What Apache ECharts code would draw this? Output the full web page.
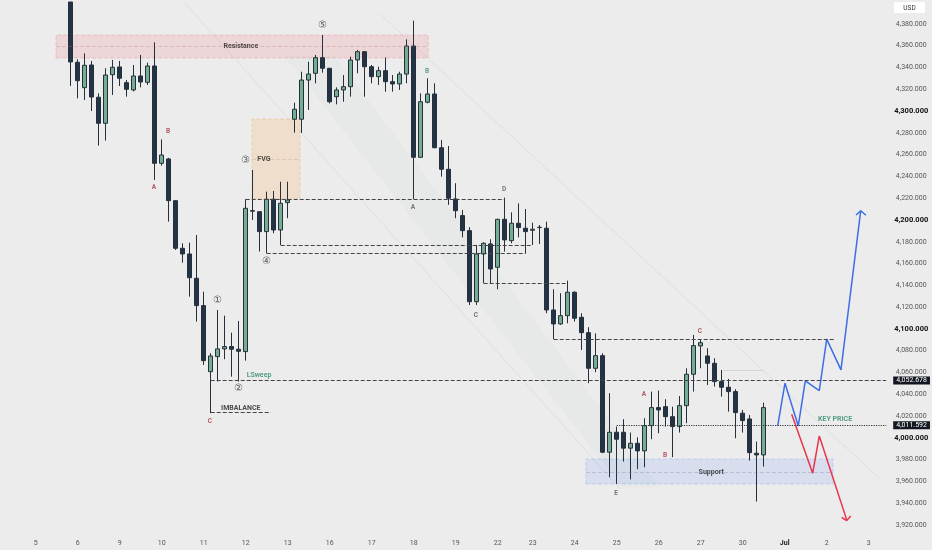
<!DOCTYPE html>
<html><head><meta charset="utf-8">
<script src="https://cdn.jsdelivr.net/npm/echarts@6/dist/echarts.min.js"></script>
<style>html,body{margin:0;padding:0;background:#ececec}#c{width:932px;height:550px}</style>
</head><body><div id="c"></div>
<script>
// ---- candle data (4H), first drawn candle at category index 5 ----
const firstIdx = 5;
const opens = [4400,4344.7,4321.4,4342.2,4312.6,4288.7,4333.3,4340.4,4326,4319.3,4332.1,4326.3,4341.3,4252,4256,4217.7,4174,4168.8,4146.5,4121.4,
  4060.8,4074.6,4081.7,4083.8,4081.4,4079.2,4208,4207.6,4189.3,4219,4190.8,4215.9,4292.4,4292.4,4328.4,4334.6,4348.9,4339.2,4313.1,4319.3,
  4322.3,4346.8,4354.4,4340.6,4331.5,4337,4326.9,4324.8,4333.9,4359.6,4257.5,4308,4315.6,4266.3,4246.5,4219.3,4204,4190.2,4125,4168.8,
  4178,4156.6,4200.6,4181,4197,4192.4,4190.5,4193,4192.4,4117.4,4104.6,4112.2,4133.7,4110.7,4096.6,4063.9,4075.5,3986.9,4005.2,4005.2,
  3990.6,3995.1,3988.1,4011.3,4027.8,4028.7,4019.5,4010.4,4029.6,4058.4,4084.4,4075.2,4068.5,4051.7,4046.5,4042.5,4022.7,4017.4,3985.9,3984.4];
const closes = [4345,4327.8,4341.9,4312.8,4288.7,4333,4340.1,4330,4319.9,4332.1,4326.6,4341.3,4252,4259.6,4217.7,4174,4168.8,4147,4121.4,4070.9,
  4075.2,4081.7,4083.8,4081.4,4079.5,4210.7,4208.6,4189.3,4219,4190.8,4215.3,4218.3,4301.6,4328.4,4333.9,4348.9,4339.2,4308.5,4319.3,4322.3,
  4346.8,4354.4,4340.6,4331.5,4337,4326.9,4324.8,4333.9,4359.6,4257.5,4308.5,4315.6,4266.3,4246.5,4219.9,4208.5,4190.2,4125,4168.8,4178.6,
  4155,4200.6,4181.7,4197,4193,4189.3,4191.5,4193.3,4117.4,4104.6,4112.2,4133.7,4109.8,4096.6,4063.9,4075.5,3986.9,4005.2,3998.8,3990.6,
  3995.1,3988.1,4011.3,4027.8,4025.7,4019.5,4010.4,4029.6,4058.4,4084.7,4087.4,4068.5,4051.7,4046.5,4042.5,4023.2,4015.9,3986.5,3984.4,4027.8];
const lows = [4323,4311.6,4310.1,4300,4268.2,4272.8,4314.7,4322.9,4313.1,4318,4321.7,4323.9,4236.7,4249.8,4198.4,4172.5,4160.8,4129.6,4106.7,4067,
  4022.7,4051.7,4072.2,4056.2,4051.7,4070.9,4200,4171,4169.4,4187.8,4177,4201.6,4280.1,4279.8,4300.9,4325.4,4335.1,4307,4306.1,4308.5,
  4313.1,4334.6,4313.1,4325.4,4323.9,4317.7,4317.7,4319.3,4325.4,4219,4257,4307,4265.8,4239.7,4213.8,4201.6,4184.1,4122,4122,4141.9,
  4141.9,4136.4,4171,4178.6,4184.1,4169.4,4177,4178,4114.4,4090.6,4103.7,4105.2,4106.7,4080.7,4050.2,4060.3,3986,3963.9,3957.8,3978.3,
  3962,3971.3,3973.1,3998.8,4004.3,4010.4,3982.3,4004.9,4013.5,4042.5,4063.9,4048.6,4047.1,4037.9,4024.1,3999.7,4004.9,3979.2,3941.6,3973.7];
const highs = [4400,4347.4,4352.9,4345.9,4316.2,4339.2,4346.8,4345.9,4328.4,4342.2,4351.4,4344.3,4363,4274,4257,4218,4178.6,4179.2,4186.2,4134.2,
  4077.7,4117.4,4112.2,4096.6,4107.3,4219,4245.9,4208,4226,4226.6,4235.1,4235.1,4307.6,4336,4345.2,4351.4,4369.7,4339.5,4321.7,4333,
  4349.8,4356,4355,4342.2,4340.6,4349.2,4333,4336,4365.7,4382.9,4316.2,4330,4325.4,4273.4,4267.9,4233.7,4209.2,4193.3,4177.1,4179.5,
  4182.3,4201,4220.5,4207,4215.3,4210.1,4197.5,4195.4,4198.4,4136.4,4132.8,4144.3,4134.5,4114.4,4101.6,4096,4077.7,4041,4010.4,4017.2,
  4004.9,4000.6,4018.1,4042.5,4043.4,4035.5,4028.7,4038.5,4063.9,4094.5,4090.6,4082.3,4073.1,4062.4,4054.1,4044.7,4025.7,4021.1,3996.6,4032.4];

const categoryCount = 122;
const dayLabels = ['5','6','9','10','11','12','13','16','17','18','19','22','23','24','25','26','27','30','Jul','2','3'];
const dayStarts = [0,6,12,18,24,30,36,42,48,54,60,66,71,77,83,89,95,101,107,113,119];
const yTicks = [3920,3940,3960,3980,4000,4020,4040,4060,4080,4100,4120,4140,4160,4180,4200,4220,4240,4260,4280,4300,4320,4340,4360,4380];
const boldTicks = [4000,4100,4200,4300];

// ---- levels / zones (x in candle index units, y in price) ----
const sweepPrice = 4052.678;
const lastPrice = 4011.592;
const resistanceZone = [2.9, 56.06, 4348.6, 4369.7, 4359.2];
const fvgZone = [30.9, 37.76, 4219.3, 4292.7, 4255.7];
const supportZone = [78.6, 113.9, 3957.8, 3980.7, 3968.8];
const levelX1 = [30, 35, 33, 64, 74, 25];
const levelX2 = [67, 71, 70, 76, 114, 33.6];
const levelY  = [4219.3, 4177, 4169.7, 4141.5, 4090.6, 4023.9];

// ---- faint descending channel ----
const channelUpperX = [49.2, 120.6];
const channelUpperY = [4389, 3962.4];
const channelLowerX = [21.2, 83.5];
const channelLowerY = [4400, 3953.2];
const bandX = [35.6, 42.8, 89.2, 83.8];
const bandY = [4350, 4350, 3955, 3955];

// ---- projected paths ----
const blueX = [106.0,107.04,108.94,109.94,111.94,113.0,115.04,117.86];
const blueY = [4011,4050.2,4011,4052.3,4043.4,4090.6,4062.4,4208.5];
const blueHeadX = [117.19,117.86,118.61];
const blueHeadY = [4204.6,4208.5,4204.3];
const redX = [108.0,111.0,111.94,115.86];
const redY = [4021.7,3967.6,4001.8,3924.8];
const redHeadX = [115.14,115.86,116.43];
const redHeadY = [3927.2,3924.1,3928.4];

// ---- text annotations ----
const noteText = ['A','B','C','A','B','D','C','E','A','B','C','①','②','③','④','⑤','Resistance','FVG','LSweep','IMBALANCE','Support','KEY PRICE'];
const noteX = [16.9,18.9,24.9,53.9,55.9,66.9,62.9,82.9,86.9,89.9,94.9,25.9,28.9,29.9,33.0,40.9,29.3,32.6,31.9,29.3,96.5,114.2];
const noteY = [4230.3,4281.7,4015.6,4211.9,4336.7,4228.4,4112.8,3949.5,4040.4,3984.4,4098.2,4125.7,4045,4255,4161.5,4378,4359.6,4256,4057.8,4027.5,3968.8,4017.4];
const noteKind = ['r','r','r','g','gr','g','g','g','r','r','r','n','n','n','n','n','t','t','lg','t','t','lg'];

const kindStyle = {
  r: {color:'#a8323e', fontSize:6.5, fontWeight:'bold'},
  g: {color:'#555', fontSize:6.5, fontWeight:'bold'},
  gr:{color:'#3c8a6e', fontSize:6.5, fontWeight:'bold'},
  n: {color:'#333', fontSize:10},
  t: {color:'#222', fontSize:7, fontWeight:'bold'},
  lg:{color:'#2f8a68', fontSize:7, fontWeight:'bold'}
};

function fmt(v){
  const s = v.toFixed(3); const [a,b] = s.split('.');
  return a.replace(/\B(?=(\d{3})+(?!\d))/g, ',') + '.' + b;
}

const cats = []; const candles = [];
for (let i = 0; i < categoryCount; i++) {
  cats.push(String(i));
  const j = i - firstIdx;
  candles.push(j >= 0 && j < opens.length ? [opens[j], closes[j], lows[j], highs[j]] : '-');
}

function zoneArea(z, fill, border){
  return [{xAxis:z[0], yAxis:z[2], itemStyle:{color:fill, borderColor:border, borderWidth:1, borderType:'dashed'}}, {xAxis:z[1], yAxis:z[3]}];
}
function zoneMid(z, color){
  return [{coord:[z[0], z[4]], lineStyle:{color:color, type:'dashed', width:1}}, {coord:[z[1], z[4]]}];
}

const levelLines = levelX1.map((x,k)=>[{coord:[x, levelY[k]]},{coord:[levelX2[k], levelY[k]]}]);
const tagLabel = (txt)=>({show:true, position:'end', formatter:txt, backgroundColor:'#131722', color:'#fff', padding:[1,3,0,3], fontSize:7, distance:7, fontFamily:'Roboto'});

const notes = noteText.map((t,k)=>({value:[noteX[k], noteY[k]], label:Object.assign({show:true, position:'inside', formatter:t, fontFamily:'Roboto'}, kindStyle[noteKind[k]])}));

const chart = echarts.init(document.getElementById('c'), null, {renderer:'canvas'});
chart.setOption({
  animation:false,
  backgroundColor:'#ececec',
  textStyle:{fontFamily:'Roboto'},
  grid:{left:32.2, width:854, top:2, height:534},
  xAxis:[
    {type:'category', data:cats, boundaryGap:true,
     axisLine:{show:false}, axisTick:{show:false}, splitLine:{show:false},
     axisLabel:{interval:(i)=>dayStarts.indexOf(i)>=0, margin:4, fontSize:7, color:'#555',
       formatter:(v,i)=>{const k=dayStarts.indexOf(Number(v)); if(k<0) return ''; const l=dayLabels[k]; return l==='Jul'?'{b|Jul}':l;},
       rich:{b:{fontWeight:'bold', color:'#222', fontSize:7}}}},
    {type:'value', min:-0.5, max:categoryCount-0.5, show:false}
  ],
  yAxis:{type:'value', position:'right', min:3910, max:4400, scale:true,
    axisLine:{show:false}, axisTick:{show:false}, splitLine:{show:false},
    axisLabel:{customValues:yTicks, align:'center', margin:25, fontSize:7, color:'#555', hideOverlap:false,
      formatter:(v)=> boldTicks.indexOf(v)>=0 ? '{b|'+fmt(v)+'}' : fmt(v),
      rich:{b:{fontWeight:'bold', color:'#111', fontSize:7.5}}}},
  graphic:[
    {type:'rect', shape:{x:894,y:2,width:31,height:11}, style:{fill:'#fff'}},
    {type:'text', style:{x:909.5,y:8,text:'USD', align:'center', verticalAlign:'middle', fontSize:6.5, fill:'#333', fontFamily:'Roboto'}}
  ],
  series:[
    {type:'custom', xAxisIndex:1, silent:true, z:0,
     data:bandX.map((x,k)=>[x,bandY[k]]),
     renderItem:(params, api)=>{
       if (params.dataIndex !== 0) return null;
       const pts = bandX.map((x,k)=>api.coord([x, bandY[k]]));
       return {type:'polygon', shape:{points:pts}, style:{fill:'rgba(150,205,180,0.07)'}};
     }},
    {type:'line', xAxisIndex:1, data:channelUpperX.map((x,k)=>[x,channelUpperY[k]]), symbol:'none', silent:true, z:0,
     lineStyle:{color:'rgba(0,0,0,0.06)', width:1}},
    {type:'line', xAxisIndex:1, data:channelLowerX.map((x,k)=>[x,channelLowerY[k]]), symbol:'none', silent:true, z:0,
     lineStyle:{color:'rgba(0,0,0,0.06)', width:1}},
    {type:'line', xAxisIndex:1, data:[], silent:true,
     markArea:{silent:true, data:[
        zoneArea(resistanceZone,'rgba(242,54,69,0.12)','rgba(242,54,69,0.2)'),
        zoneArea(fvgZone,'rgba(255,170,80,0.2)','rgba(230,150,60,0.25)'),
        zoneArea(supportZone,'rgba(41,98,255,0.10)','rgba(41,98,255,0.18)')
     ]},
     markLine:{silent:true, symbol:['none','none'], label:{show:false},
       lineStyle:{color:'#444', type:'dashed', width:1},
       data:[
         zoneMid(resistanceZone,'rgba(190,120,130,0.3)'),
         zoneMid(fvgZone,'rgba(190,150,100,0.3)'),
         zoneMid(supportZone,'rgba(110,120,160,0.3)'),
         ...levelLines,
         [{coord:[25, sweepPrice], label:tagLabel(fmt(sweepPrice))},{coord:[categoryCount-0.5, sweepPrice]}],
         [{coord:[83, lastPrice], lineStyle:{type:'dotted', color:'#333', width:1.2}, label:tagLabel(fmt(lastPrice))},{coord:[categoryCount-0.5, lastPrice]}],
         [{coord:[98.2, 4062.4], lineStyle:{type:'solid', color:'#d4d4d4', width:1}},{coord:[104, 4062.4]}]
       ]}},
    {type:'candlestick', xAxisIndex:0, data:candles, barWidth:5, clip:true,
     itemStyle:{color:'#74ad94', color0:'#243447', borderColor:'#25303c', borderColor0:'#25303c', borderWidth:1}},
    {type:'line', xAxisIndex:1, data:blueX.map((x,k)=>[x,blueY[k]]), symbol:'none', lineStyle:{color:'#3d6ee8', width:1.5}},
    {type:'line', xAxisIndex:1, data:blueHeadX.map((x,k)=>[x,blueHeadY[k]]), symbol:'none', lineStyle:{color:'#3d6ee8', width:1.5}},
    {type:'line', xAxisIndex:1, data:redX.map((x,k)=>[x,redY[k]]), symbol:'none', lineStyle:{color:'#e8344a', width:1.5}},
    {type:'line', xAxisIndex:1, data:redHeadX.map((x,k)=>[x,redHeadY[k]]), symbol:'none', lineStyle:{color:'#e8344a', width:1.5}},
    {type:'scatter', xAxisIndex:1, data:notes, symbolSize:0, silent:true}
  ]
});
</script></body></html>
